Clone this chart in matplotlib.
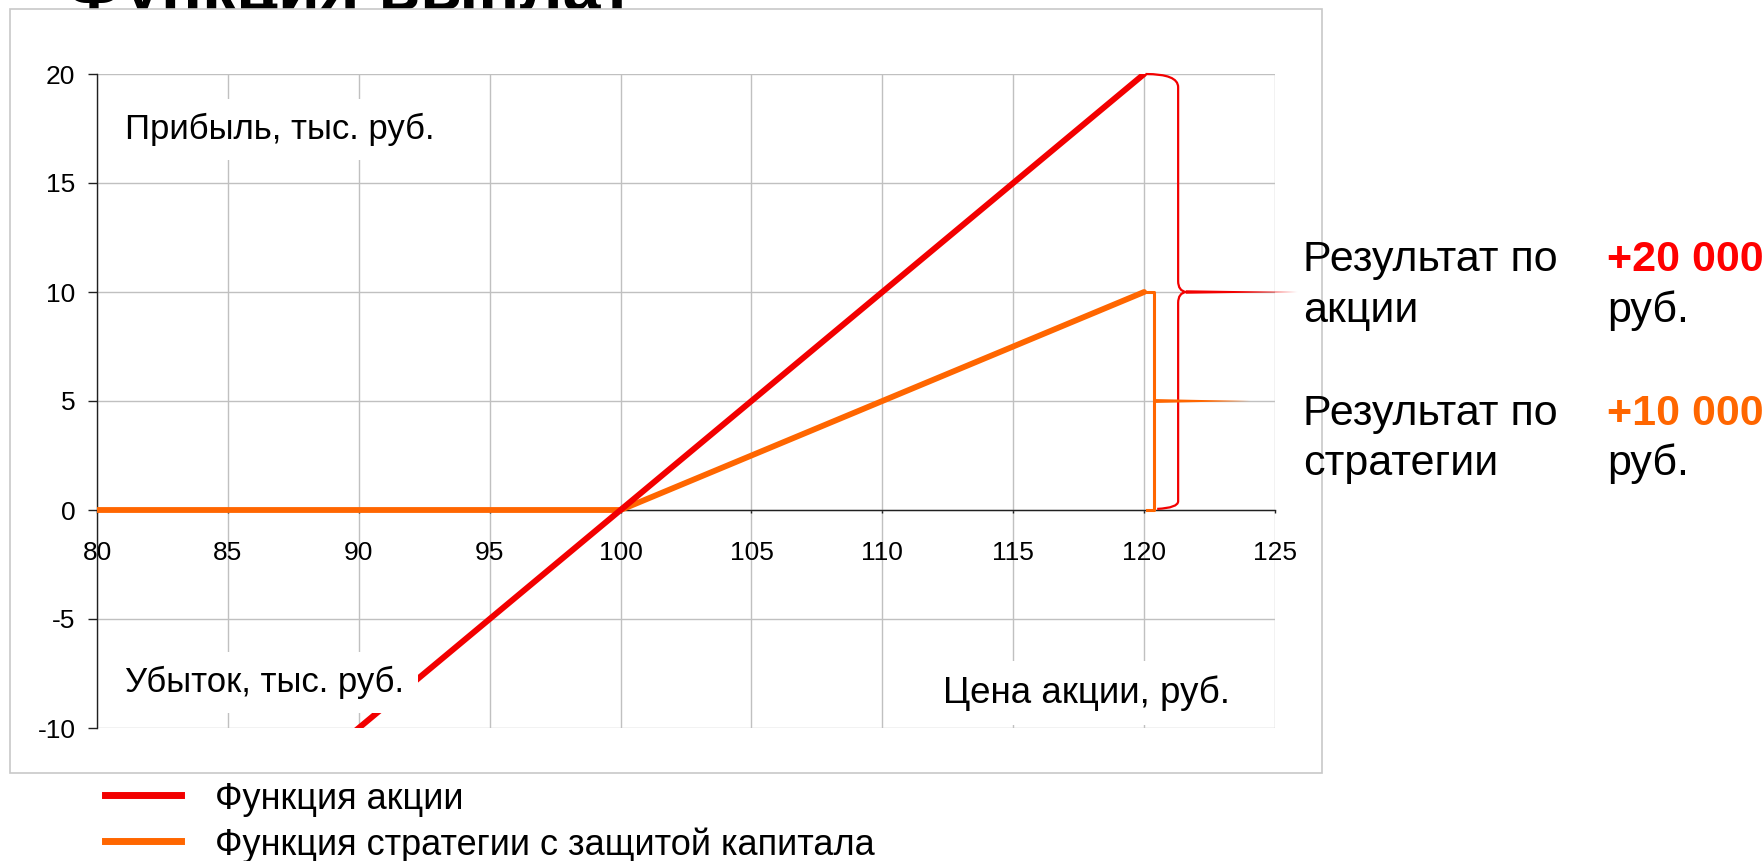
import matplotlib.pyplot as plt
from matplotlib.patches import Rectangle, PathPatch, Polygon
from matplotlib.path import Path
from matplotlib.lines import Line2D

plt.rcParams['font.family'] = ['Liberation Sans', 'DejaVu Sans']
plt.rcParams['axes.unicode_minus'] = False

# data: price of the share and profit (thousand rubles)
price = [80, 85, 90, 95, 100, 105, 110, 115, 120]
stock_profit = [-20, -15, -10, -5, 0, 5, 10, 15, 20]
strategy_profit = [0, 0, 0, 0, 0, 2.5, 5, 7.5, 10]
x_ticks = [80, 85, 90, 95, 100, 105, 110, 115, 120, 125]
y_ticks = [-10, -5, 0, 5, 10, 15, 20]
series_labels = ["Функция акции", "Функция стратегии с защитой капитала"]

RED = '#f20000'
ORANGE = '#ff6600'
GRID = '#c0c0c0'

W, H = 1764, 861


def fx(px):
    return px / W


def fy(py):
    return 1 - py / H


fig = plt.figure(figsize=(W / 100, H / 100), dpi=100)

# title sits behind the chart frame, only its lower edge peeks out
fig.text(fx(65), fy(10), "Функция выплат", fontsize=49, weight='bold',
         va='baseline', zorder=-2)
fig.add_artist(Rectangle((fx(10), fy(773)), fx(1322) - fx(10), fy(9) - fy(773),
                         transform=fig.transFigure, facecolor='white',
                         edgecolor='#c8c8c8', lw=1.2, zorder=-1))

ax = fig.add_axes([fx(97), fy(728), fx(1275) - fx(97), fy(74) - fy(728)], zorder=0)
ax.set_xlim(80, 125)
ax.set_ylim(-10, 20)
ax.set_xticks(x_ticks)
ax.set_yticks(y_ticks)
ax.set_xticklabels([str(v) for v in x_ticks])
ax.set_yticklabels([str(v) for v in y_ticks])
ax.grid(True, color=GRID, lw=1)
ax.set_axisbelow(True)
for s in ['top', 'right']:
    ax.spines[s].set_visible(False)
ax.spines['bottom'].set_position(('data', 0))
ax.spines['bottom'].set_color('#202020')
ax.spines['left'].set_color('#202020')
ax.spines['bottom'].set_linewidth(1)
ax.spines['left'].set_linewidth(1)
ax.tick_params(axis='x', direction='out', length=2.5, width=1, pad=20,
               labelsize=19, color='#202020')
ax.tick_params(axis='y', direction='out', length=6.5, width=1, pad=9,
               labelsize=19, color='#202020')

l1, = ax.plot(price, strategy_profit, color=ORANGE, lw=4.2, zorder=3,
              solid_capstyle='round')
l2, = ax.plot(price, stock_profit, color=RED, lw=4.3, zorder=4,
              solid_capstyle='round')

# curly brace for the share result (0..20)
xb = 121.3
brace = Path([(120.05, 20), (xb, 20), (xb, 19.4),
              (xb, 10.5), (xb, 10.05), (xb + 0.3, 10.0),
              (xb, 9.95), (xb, 9.5),
              (xb, 0.4), (xb, 0.1), (120.5, 0.05)],
             [Path.MOVETO, Path.CURVE3, Path.CURVE3,
              Path.LINETO, Path.CURVE3, Path.CURVE3,
              Path.CURVE3, Path.CURVE3,
              Path.LINETO, Path.CURVE3, Path.CURVE3])
ax.add_patch(PathPatch(brace, facecolor='none', edgecolor=RED, lw=1.6,
                       zorder=5, clip_on=False))
ax.add_patch(Polygon([(xb + 0.3, 10.08), (125.85, 10), (xb + 0.3, 9.92)],
                     closed=True, facecolor=RED, edgecolor='none',
                     zorder=5, clip_on=False))

# square bracket for the strategy result (0..10)
xo = 120.38
ax.plot([120.0, xo, xo, 120.1], [10, 10, 0, 0], color=ORANGE, lw=2.2,
        zorder=5, clip_on=False)
ax.add_patch(Polygon([(xo, 5.09), (124.05, 5), (xo, 4.91)], closed=True,
                     facecolor=ORANGE, edgecolor='none', zorder=5, clip_on=False))

# labels inside the plot area with white backgrounds
box = dict(facecolor='white', edgecolor='none', pad=10)
fig.text(fx(125), fy(139), "Прибыль, тыс. руб.", fontsize=25, va='baseline',
         bbox=box, zorder=6)
fig.text(fx(125), fy(692), "Убыток, тыс. руб.", fontsize=25, va='baseline',
         bbox=box, zorder=6)
fig.text(fx(943), fy(703), "Цена акции, руб.", fontsize=26.5, va='baseline',
         bbox=box, zorder=6)

# results to the right of the chart
fig.text(fx(1303), fy(271), "Результат по", fontsize=31, va='baseline')
fig.text(fx(1303), fy(322), "акции", fontsize=31, va='baseline')
fig.text(fx(1607), fy(271), "+20 000", fontsize=31, va='baseline',
         weight='bold', color='#ff0000')
fig.text(fx(1607), fy(322), "руб.", fontsize=31, va='baseline')
fig.text(fx(1303), fy(425), "Результат по", fontsize=31, va='baseline')
fig.text(fx(1303), fy(475), "стратегии", fontsize=31, va='baseline')
fig.text(fx(1607), fy(425), "+10 000", fontsize=31, va='baseline',
         weight='bold', color=ORANGE)
fig.text(fx(1607), fy(475), "руб.", fontsize=31, va='baseline')

# legend below the frame
for line, ly, lab in [(l2, 795, series_labels[0]), (l1, 841, series_labels[1])]:
    fig.add_artist(Line2D([fx(105), fx(181)], [fy(ly), fy(ly)],
                          color=line.get_color(), lw=5,
                          transform=fig.transFigure))
    fig.text(fx(215), fy(ly + 14), lab, fontsize=26, va='baseline')

fig.savefig('out.png', dpi=100)
